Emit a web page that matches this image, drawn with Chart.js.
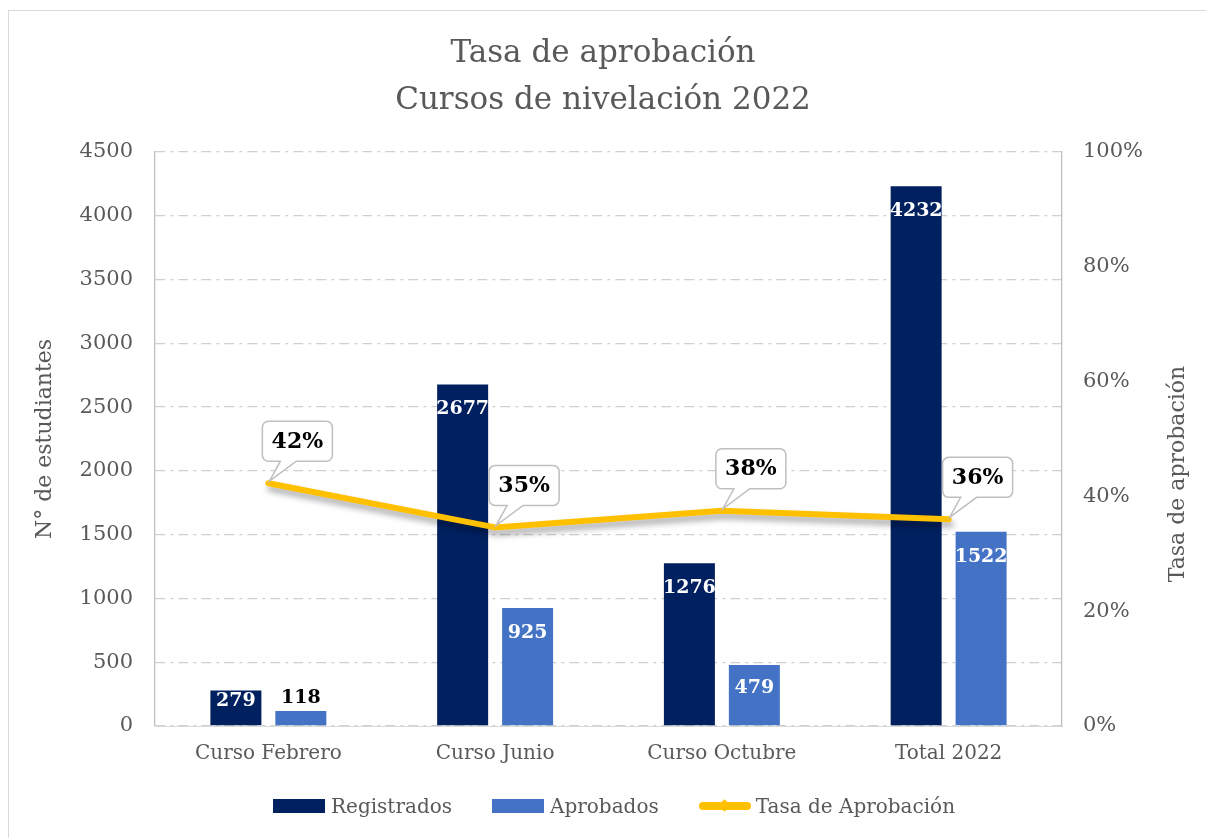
<!DOCTYPE html>
<html>
<head>
<meta charset="utf-8">
<script src="https://cdn.jsdelivr.net/npm/chart.js@4"></script>
<style>
  body { margin: 0; background: #fff; }
  #frame { position: absolute; left: 8px; top: 10px; width: 1220px; height: 850px; border: 1px solid #D9D9D9; }
  #wrap { position: absolute; left: 0; top: 0; width: 1206px; height: 838px; overflow: hidden; }
  canvas { position: absolute; left: 0; top: 0; }
  #legend { position: absolute; left: 273px; top: 794px; display: flex; align-items: center;
    font-family: "DejaVu Serif", serif; font-size: 20px; color: #595959; white-space: nowrap; }
  #legend .item { display: flex; align-items: center; margin-right: 40px; }
  #legend .sw { width: 52px; height: 14px; margin-right: 6px; }
  #legend .ln { position: relative; width: 52px; height: 8px; border-radius: 4px; background: #FFC000; margin-right: 5px; }
  #legend .ln::after { content: ""; position: absolute; left: 21px; top: -1px; width: 9px; height: 9px;
    background: #FFC000; transform: rotate(45deg); }
</style>
</head>
<body>
<div id="wrap">
  <div id="frame"></div>
  <canvas id="chart" width="1206" height="838"></canvas>
  <div id="legend"></div>
</div>
<script>
// Tasa de aprobación - Cursos de nivelación 2022
const categories = ['Curso Febrero', 'Curso Junio', 'Curso Octubre', 'Total 2022'];
const registrados = [279, 2677, 1276, 4232];
const aprobados = [118, 925, 479, 1522];
const tasaAprobacion = [0.423, 0.346, 0.375, 0.36];
const leftTicks = [0, 500, 1000, 1500, 2000, 2500, 3000, 3500, 4000, 4500];
const rightTicks = ['0%', '20%', '40%', '60%', '80%', '100%'];

const FONT = '"DejaVu Serif", serif';
const GRAY = '#595959';
const NAVY = '#002060';
const BLUE = '#4472C4';
const GOLD = '#FFC000';

// white labels inside the bars, dark above when the bar is too short
const barLabels = {
  id: 'barLabels',
  afterDatasetsDraw(chart) {
    const ctx = chart.ctx;
    ctx.save();
    ctx.font = 'bold 19px ' + FONT;
    ctx.textAlign = 'center';
    ctx.textBaseline = 'middle';
    [0, 1].forEach(di => {
      const meta = chart.getDatasetMeta(di);
      meta.data.forEach((bar, i) => {
        const v = chart.data.datasets[di].data[i];
        const h = bar.base - bar.y;
        if (h >= 30) {
          ctx.fillStyle = '#fff';
          ctx.fillText(v, bar.x, bar.y + Math.min(25, h / 2 - 7));
        } else {
          ctx.fillStyle = '#000';
          ctx.fillText(v, bar.x, bar.y - 13);
        }
      });
    });
    ctx.restore();
  }
};

// shadow under the rate line
const lineShadow = {
  id: 'lineShadow',
  beforeDatasetDraw(chart, args) {
    if (args.index !== 2) return;
    const ctx = chart.ctx;
    ctx.save();
    ctx.shadowColor = 'rgba(0,0,0,0.35)';
    ctx.shadowBlur = 6;
    ctx.shadowOffsetX = 2;
    ctx.shadowOffsetY = 5;
  },
  afterDatasetDraw(chart, args) {
    if (args.index !== 2) return;
    chart.ctx.restore();
  }
};

// callout boxes for the percentages
const callouts = {
  id: 'callouts',
  afterDraw(chart) {
    const ctx = chart.ctx;
    const meta = chart.getDatasetMeta(2);
    ctx.save();
    meta.data.forEach((pt, i) => {
      const px = pt.x, py = pt.y;
      const w = 70, h = 40, r = 6;
      const x = px - 6, y = py - 62;
      const b = y + h;
      ctx.beginPath();
      ctx.moveTo(x + r, y);
      ctx.lineTo(x + w - r, y);
      ctx.arcTo(x + w, y, x + w, y + r, r);
      ctx.lineTo(x + w, b - r);
      ctx.arcTo(x + w, b, x + w - r, b, r);
      ctx.lineTo(px + 28, b);
      ctx.lineTo(px + 1, py - 2);
      ctx.lineTo(px + 12, b);
      ctx.lineTo(x + r, b);
      ctx.arcTo(x, b, x, b - r, r);
      ctx.lineTo(x, y + r);
      ctx.arcTo(x, y, x + r, y, r);
      ctx.closePath();
      ctx.fillStyle = '#fff';
      ctx.fill();
      ctx.strokeStyle = '#BFBFBF';
      ctx.lineWidth = 1.5;
      ctx.stroke();
      ctx.fillStyle = '#000';
      ctx.font = 'bold 22px ' + FONT;
      ctx.textAlign = 'center';
      ctx.textBaseline = 'middle';
      ctx.fillText(Math.round(tasaAprobacion[i] * 100) + '%', x + w / 2, y + h / 2 + 1);
    });
    ctx.restore();
  }
};

// secondary axis title, read bottom to top like the primary one
const rightTitle = {
  id: 'rightTitle',
  afterDraw(chart) {
    const ctx = chart.ctx;
    ctx.save();
    ctx.translate(1178, 474);
    ctx.rotate(-Math.PI / 2);
    ctx.font = '22px ' + FONT;
    ctx.fillStyle = GRAY;
    ctx.textAlign = 'center';
    ctx.textBaseline = 'middle';
    ctx.fillText('Tasa de aprobación', 0, 0);
    ctx.restore();
  }
};

new Chart(document.getElementById('chart'), {
  type: 'bar',
  data: {
    labels: categories,
    datasets: [
      { label: 'Registrados', data: registrados, backgroundColor: NAVY, yAxisID: 'y', order: 1,
        categoryPercentage: 0.573, barPercentage: 0.785 },
      { label: 'Aprobados', data: aprobados, backgroundColor: BLUE, yAxisID: 'y', order: 1,
        categoryPercentage: 0.573, barPercentage: 0.785 },
      { label: 'Tasa de Aprobación', type: 'line', data: tasaAprobacion, yAxisID: 'y1', order: 0,
        borderColor: GOLD, backgroundColor: GOLD, borderWidth: 6, pointRadius: 0,
        borderCapStyle: 'round', borderJoinStyle: 'round', tension: 0 }
    ]
  },
  options: {
    responsive: false,
    animation: false,
    layout: { padding: { left: 0, right: 0, top: 0, bottom: 62 } },
    plugins: {
      legend: { display: false },
      tooltip: { enabled: false },
      title: {
        display: true,
        text: ['Tasa de aprobación', 'Cursos de nivelación 2022'],
        color: GRAY,
        font: { family: FONT, size: 31, weight: 'normal', lineHeight: 1.5 },
        padding: { top: 31, bottom: 28 }
      }
    },
    scales: {
      x: {
        grid: { display: false, drawTicks: false },
        border: { display: true, color: '#D9D9D9', width: 1 },
        ticks: { color: GRAY, font: { family: FONT, size: 20 }, padding: 16 },
        afterFit: s => { s.height = 50; }
      },
      y: {
        position: 'left',
        min: 0, max: 4500,
        afterBuildTicks: s => { s.ticks = leftTicks.map(v => ({ value: v })); },
        grid: { color: '#D0D0D0', lineWidth: 1.3, drawTicks: false },
        border: { display: true, color: '#BFBFBF', width: 1.3, dash: [10, 5, 3, 5] },
        ticks: { color: GRAY, font: { family: FONT, size: 21 }, padding: 22,
          callback: v => String(v) },
        title: { display: true, text: 'N° de estudiantes', color: GRAY,
          font: { family: FONT, size: 22 }, padding: { top: 32, bottom: 0 } },
        afterFit: s => { s.width = 155; }
      },
      y1: {
        position: 'right',
        min: 0, max: 1,
        afterBuildTicks: s => { s.ticks = rightTicks.map((t, i) => ({ value: i * 0.2 })); },
        grid: { display: false, drawTicks: false },
        border: { display: true, color: '#BFBFBF', width: 1.3 },
        ticks: { color: GRAY, font: { family: FONT, size: 21 }, padding: 21,
          callback: (v, i) => rightTicks[i] },
        afterFit: s => { s.width = 144; }
      }
    }
  },
  plugins: [lineShadow, barLabels, callouts, rightTitle]
});

// legend
const legendItems = [
  { text: 'Registrados', color: NAVY, kind: 'box' },
  { text: 'Aprobados', color: BLUE, kind: 'box' },
  { text: 'Tasa de Aprobación', color: GOLD, kind: 'line' }
];
const legendEl = document.getElementById('legend');
legendItems.forEach(it => {
  const item = document.createElement('div');
  item.className = 'item';
  const sw = document.createElement('span');
  sw.className = it.kind === 'box' ? 'sw' : 'ln';
  if (it.kind === 'box') sw.style.background = it.color;
  const label = document.createElement('span');
  label.textContent = it.text;
  item.appendChild(sw);
  item.appendChild(label);
  legendEl.appendChild(item);
});
</script>
</body>
</html>
